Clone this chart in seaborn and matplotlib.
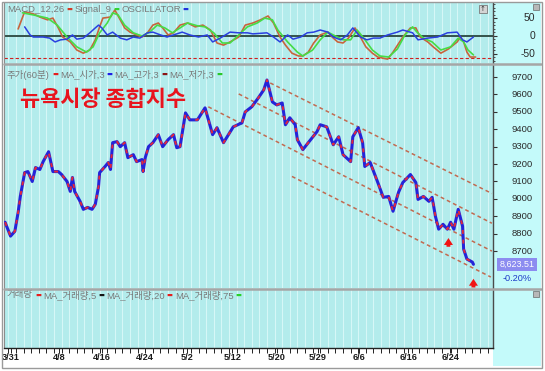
import seaborn as sns
import matplotlib.pyplot as plt
from matplotlib.patches import Rectangle
from matplotlib.lines import Line2D
from matplotlib.ticker import FixedLocator, NullFormatter
from matplotlib.transforms import blended_transform_factory

# ── Data (x = hourly bar index, 7 bars per trading day) ──────────────────────
price_bar = [1, 6, 10, 13, 15, 19, 22, 26, 29, 33, 36, 41, 42, 45, 50, 53, 58, 61, 63, 65,
             70, 73, 77, 81, 84, 87, 88, 93, 96, 98, 100, 104, 107, 111, 114, 119, 122, 127, 128, 130,
             133, 137, 142, 146, 151, 156, 159, 162, 167, 171, 178, 185, 192, 196, 202, 211, 219, 222, 228, 234,
             239, 242, 247, 251, 256, 259, 263, 268, 270, 275, 280, 288, 291, 297, 303, 308, 312, 319, 321, 326,
             330, 332, 337, 344, 349, 354, 358, 363, 367, 374, 379, 381, 386, 391, 394, 397, 400, 404, 408, 411,
             414, 418, 422, 423, 426, 431, 432]
price_val = [8866, 8786, 8814, 8923, 9014, 9151, 9157, 9100, 9180, 9169, 9214, 9271, 9243, 9157, 9157, 9140, 9100, 9043, 9123, 9043,
             8986, 8940, 8951, 8940, 8969, 9071, 9151, 9186, 9209, 9169, 9323, 9329, 9300, 9323, 9237, 9254, 9214, 9226, 9157, 9237,
             9300, 9323, 9369, 9300, 9340, 9369, 9294, 9300, 9494, 9454, 9454, 9523, 9369, 9409, 9323, 9414, 9437, 9500, 9529, 9580,
             9626, 9683, 9557, 9540, 9551, 9426, 9466, 9426, 9340, 9283, 9323, 9386, 9426, 9414, 9311, 9357, 9254, 9214, 9357, 9409,
             9323, 9186, 9209, 9094, 9009, 9014, 8929, 9037, 9094, 9140, 9094, 8997, 9014, 8986, 9009, 8900, 8826, 8854, 8826, 8866,
             8826, 8940, 8843, 8711, 8654, 8637, 8624]

macd_bar = [13, 19, 27, 33, 40, 45, 50, 54, 61, 67, 73, 79, 84, 88, 91, 98, 102, 107, 111, 116,
            122, 127, 132, 137, 142, 146, 151, 156, 162, 169, 176, 183, 190, 196, 202, 208, 216, 222, 229, 236,
            243, 248, 254, 259, 265, 271, 275, 280, 285, 291, 298, 302, 307, 312, 317, 323, 328, 333, 339, 344,
            353, 358, 367, 374, 379, 383, 390, 395, 402, 409, 417, 420, 423, 426, 429, 434]
macd_val = [20, 69, 63, 54, 46, 51, 23, -3, -17, -40, -49, -40, -11, 26, 51, 54, 74, 46, 23, 11,
            3, -3, 9, 31, 37, 23, 3, 9, 31, 37, 26, 31, 17, -20, -26, -17, -3, 31, 37, 46,
            57, 37, -3, -26, -49, -57, -57, -46, -20, 3, 11, -3, -17, -20, -6, 23, -3, -31, -49, -60,
            -66, -46, -3, 23, 23, -3, -17, -31, -49, -37, -17, -3, -17, -46, -60, -60]

signal_bar = [17, 27, 40, 49, 58, 67, 76, 82, 88, 95, 100, 105, 111, 119, 127, 134, 141, 148, 155, 162,
              169, 178, 185, 193, 201, 208, 216, 224, 233, 240, 247, 252, 261, 270, 275, 284, 291, 298, 303, 312,
              319, 325, 331, 339, 346, 354, 362, 369, 376, 380, 386, 394, 402, 411, 418, 423, 427, 432]
signal_val = [66, 60, 51, 31, -3, -31, -46, -31, 9, 37, 66, 60, 31, 9, 0, 11, 31, 23, 9, 23,
              37, 29, 26, 9, -20, -20, 3, 26, 37, 51, 46, 17, -17, -46, -57, -40, -11, 11, 3, -11,
              -11, 17, -6, -40, -57, -60, -37, 3, 26, 11, -6, -17, -40, -31, -6, -17, -40, -54]

osc_bar = [19, 24, 27, 36, 42, 47, 52, 58, 63, 67, 73, 79, 84, 87, 90, 95, 100, 107, 113, 119,
           125, 132, 137, 144, 150, 156, 164, 171, 179, 187, 192, 199, 208, 216, 224, 229, 242, 248, 254, 261,
           266, 273, 279, 285, 291, 298, 303, 310, 316, 321, 328, 334, 340, 346, 353, 362, 367, 376, 381, 390,
           399, 408, 417, 422, 426, 432]
osc_val = [26, 3, -3, -3, -6, -17, -11, -9, 3, -9, -6, 9, 23, 31, 23, 3, 11, -6, -11, -3,
           -6, 9, 11, 3, -3, 3, 11, 3, -3, 3, -17, -6, 11, 9, 9, 6, 9, -3, -17, 3,
           -9, -3, 9, 11, 17, 11, -3, -11, 3, 23, -3, -11, -6, -6, 3, 11, 17, 9, -11, -6,
           -3, 9, 11, -11, -17, -3]

# trend channel lines (start / end of each dashed line)
channel_start_bar = [245, 216, 188, 265]
channel_start_val = [9666, 9603, 9529, 9129]
channel_end_bar = [449, 449, 449, 448]
channel_end_val = [9031, 8860, 8700, 8551]

# buy-signal arrows (tip position)
arrow_bar = [409, 432]
arrow_val = [8791, 8557]

date_labels = ["3/31", "4/8", "4/16", "4/24", "5/2", "5/12", "5/20", "5/29", "6/6", "6/16", "6/24"]
date_bar = [6, 51, 90, 130, 168, 210, 251, 289, 327, 372, 411]

price_ticks = [8700, 8800, 8900, 9000, 9100, 9200, 9300, 9400, 9500, 9600, 9700]
macd_ticks = [-50, 0, 50]
macd_floor = -63
last_close = 8623.51
last_change = "-0.20%"

title = "뉴욕시장 종합지수"
macd_legend = [("MACD_12,26", "#d23c28"), ("Signal_9", "#32d232"), ("OSCILLATOR", "#1e32dc")]
price_legend = [("주가(60분)", "#e61e1e"), ("MA_시가,3", "#1e1ee6"), ("MA_고가,3", "#8c1414"), ("MA_저가,3", "#28c828")]
vol_legend = [("거래량", "#e61e1e"), ("MA_거래량,5", "#141414"), ("MA_거래량,20", "#e61e1e"), ("MA_거래량,75", "#28d228")]

# ── Style ────────────────────────────────────────────────────────────────────
sns.set_style("white")
plt.rcParams["font.family"] = ["Liberation Sans", "Noto Sans CJK KR", "DejaVu Sans"]

PLOT_BG = "#b3ecec"
RIGHT_BG = "#c4fafa"
GRID = "#d6f7f7"
SEP = "#a6a6a6"
LEGEND_TXT = "#7a7a7a"
TICK_TXT = "#2a2a2a"

W, H = 545, 371
PLOT_X0, PLOT_X1, RIGHT_X1 = 4, 493, 541
XMAX = 450

fig = plt.figure(figsize=(W / 100, H / 100), dpi=100)
fig.patch.set_facecolor(RIGHT_BG)   # right scale strip colour shows through


def frac(x0, y0, x1, y1):
    return [x0 / W, 1 - y1 / H, (x1 - x0) / W, (y1 - y0) / H]


# white margins around the chart body
for x0, y0, x1, y1 in [(0, 0, W, 3), (0, 366, W, H), (0, 0, PLOT_X0, H), (RIGHT_X1, 0, W, H)]:
    fig.add_artist(Rectangle((x0 / W, 1 - y1 / H), (x1 - x0) / W, (y1 - y0) / H,
                             transform=fig.transFigure, fc="white", ec="none", zorder=-5))

ax_macd = fig.add_axes(frac(PLOT_X0, 3, PLOT_X1, 63))
ax_price = fig.add_axes(frac(PLOT_X0, 64, PLOT_X1, 288))
ax_vol = fig.add_axes(frac(PLOT_X0, 289, PLOT_X1, 348))
ax_date = fig.add_axes(frac(PLOT_X0, 348, PLOT_X1, 366))

day_grid = list(range(4, XMAX, 7))


def style_panel(ax):
    ax.set_facecolor(PLOT_BG)
    ax.xaxis.set_major_locator(FixedLocator([]))
    ax.xaxis.set_minor_locator(FixedLocator(day_grid))
    ax.xaxis.set_minor_formatter(NullFormatter())
    ax.tick_params(axis="x", which="both", length=0)
    ax.grid(False)
    ax.grid(which="minor", axis="x", color=GRID, lw=0.8)
    ax.set_axisbelow(True)
    for s in ["top", "bottom"]:
        ax.spines[s].set_visible(False)
    ax.spines["left"].set_color("#8c8c8c")
    ax.spines["left"].set_linewidth(0.8)
    ax.spines["right"].set_color("#4a4a4a")
    ax.spines["right"].set_linewidth(1.0)
    ax.yaxis.tick_right()
    ax.tick_params(axis="y", which="both", direction="out", color="#333333", labelright=False)


def scale_labels(ax, ticks, x_px, size):
    """Value labels of the right scale, placed through the panel's y scale."""
    tr = blended_transform_factory(ax.transAxes, ax.transData)
    xa = (x_px - PLOT_X0) / (PLOT_X1 - PLOT_X0)
    for t in ticks:
        ax.text(xa, t, str(t), transform=tr, ha="right", va="center", fontsize=size,
                color=TICK_TXT, clip_on=False)


def legend_row(ax, items):
    prev = ax.annotate(items[0][0], xy=(0.006, 0.975), xycoords="axes fraction", va="top", ha="left",
                       fontsize=6.8, color=LEGEND_TXT, zorder=6)
    for i, (label, colour) in enumerate(items):
        if i > 0:
            prev = ax.annotate(label, xy=(1, 0.5), xycoords=prev, xytext=(1.5, 0), textcoords="offset points",
                               va="center", ha="left", fontsize=6.8, color=LEGEND_TXT, zorder=6)
        prev = ax.annotate("▬", xy=(1, 0.5), xycoords=prev, xytext=(1.5, 0), textcoords="offset points",
                           va="center", ha="left", fontsize=4.5, color=colour, zorder=6,
                           family=["DejaVu Sans"])


# ── MACD panel ───────────────────────────────────────────────────────────────
style_panel(ax_macd)
ax_macd.axhline(0, color="#34524a", lw=1.4, zorder=2)
ax_macd.axhline(macd_floor, color="#d02020", lw=0.8, ls=(0, (3, 2)), zorder=2)
sns.lineplot(x=macd_bar, y=macd_val, ax=ax_macd, color="#c8643c", lw=1.2, errorbar=None, zorder=3)
sns.lineplot(x=signal_bar, y=signal_val, ax=ax_macd, color="#46dc46", lw=1.2, errorbar=None, zorder=3)
sns.lineplot(x=osc_bar, y=osc_val, ax=ax_macd, color="#2a40e0", lw=1.1, errorbar=None, zorder=4)
ax_macd.set_xlim(0, XMAX)
ax_macd.set_ylim(-77, 94)
ax_macd.set_yticks(macd_ticks)
ax_macd.yaxis.set_minor_locator(FixedLocator(list(range(-70, 95, 10))))
ax_macd.tick_params(axis="y", which="major", length=3, width=0.8, labelright=False)
ax_macd.tick_params(axis="y", which="minor", length=1.5, width=0.6)
ax_macd.set_xlabel("")
ax_macd.set_ylabel("")
scale_labels(ax_macd, macd_ticks, 535, 7.4)
legend_row(ax_macd, macd_legend)

# ── Price panel ──────────────────────────────────────────────────────────────
style_panel(ax_price)
for sb, sv, eb, ev in zip(channel_start_bar, channel_start_val, channel_end_bar, channel_end_val):
    sns.lineplot(x=[sb, eb], y=[sv, ev], ax=ax_price, color="#c26a50", lw=1.1,
                 ls=(0, (2.5, 2)), errorbar=None, zorder=2)
sns.lineplot(x=price_bar, y=price_val, ax=ax_price, color="#2424d8", lw=2.2, errorbar=None, zorder=3)
sns.lineplot(x=price_bar, y=price_val, ax=ax_price, color="#e0283c", lw=1.4, ls=(0, (2, 3)),
             errorbar=None, zorder=4)
for b, v in zip(arrow_bar, arrow_val):
    ax_price.annotate("", xy=(b, v), xytext=(b, v - 82),
                      arrowprops=dict(arrowstyle="simple,head_width=0.65,head_length=0.5,tail_width=0.28",
                                      mutation_scale=10, color="#f01414", lw=0))
ax_price.set_xlim(0, XMAX)
ax_price.set_ylim(8488, 9775)
ax_price.set_yticks(price_ticks)
ax_price.tick_params(axis="y", length=3, width=0.8, labelright=False)
ax_price.set_xlabel("")
ax_price.set_ylabel("")
scale_labels(ax_price, price_ticks, 533, 6.8)
ax_price.text(0.033, 0.84, title, transform=ax_price.transAxes, va="center", ha="left",
              fontsize=15.8, fontweight="bold", color="#e8141e", family=["Noto Sans CJK KR"])
legend_row(ax_price, price_legend)

tr = blended_transform_factory(ax_price.transAxes, ax_price.transData)
ax_price.text(1.049, last_close, f"{last_close:,.2f}", transform=tr, ha="center", va="center",
              fontsize=6.4, color="white", clip_on=False,
              bbox=dict(boxstyle="square,pad=0.25", fc="#8c8cf0", ec="none"))
ax_price.annotate(last_change, xy=(1.049, last_close), xycoords=tr, xytext=(0, -10),
                  textcoords="offset points", ha="center", va="center", fontsize=6.6,
                  color="#1e3cc8", annotation_clip=False)

# ── Volume panel ─────────────────────────────────────────────────────────────
style_panel(ax_vol)
ax_vol.set_xlim(0, XMAX)
ax_vol.set_ylim(0, 1)
ax_vol.set_yticks([])
legend_row(ax_vol, vol_legend)

# ── Date strip ───────────────────────────────────────────────────────────────
ax_date.set_facecolor("white")
ax_date.set_xlim(0, XMAX)
ax_date.set_ylim(0, 1)
ax_date.set_yticks([])
for s in ["left", "right", "bottom"]:
    ax_date.spines[s].set_visible(False)
ax_date.spines["top"].set_color("#222222")
ax_date.spines["top"].set_linewidth(1.0)
ax_date.set_xticks(date_bar, labels=date_labels)
ax_date.xaxis.set_minor_locator(FixedLocator(day_grid))
ax_date.tick_params(axis="x", which="both", top=True, bottom=False, direction="in",
                    length=3.5, width=0.7, color="#222222")
ax_date.tick_params(axis="x", which="major", labelbottom=True, labeltop=False, labelsize=6.6,
                    labelcolor="#1a1a1a", pad=-9.5)
for lbl in ax_date.get_xticklabels():
    lbl.set_fontweight("bold")

# ── Separators, frame, icons ─────────────────────────────────────────────────
for y_px in [63.5, 288.5]:
    fig.add_artist(Line2D([4 / W, 541 / W], [1 - y_px / H] * 2, transform=fig.transFigure,
                          color=SEP, lw=1.8, zorder=8))
fig.add_artist(Rectangle((2 / W, 1 - 368 / H), 540 / W, 366 / H, transform=fig.transFigure,
                         fc="none", ec="#9a9a9a", lw=1.0, zorder=9))
fig.add_artist(Rectangle((479 / W, 1 - 13 / H), 8 / W, 8 / H, transform=fig.transFigure,
                         fc="#d4d4d4", ec="#7a7a7a", lw=0.6, zorder=9))
fig.text(483 / W, 1 - 9 / H, "↑", fontsize=5, ha="center", va="center", color="#333333",
         family=["DejaVu Sans"], zorder=10)
for y_px in [4, 291]:
    fig.add_artist(Rectangle((533 / W, 1 - (y_px + 6) / H), 6 / W, 6 / H, transform=fig.transFigure,
                             fc="#b8b8b8", ec="#6a6a6a", lw=0.5, zorder=9))

fig.savefig("out.png", dpi=100, facecolor=fig.get_facecolor())
